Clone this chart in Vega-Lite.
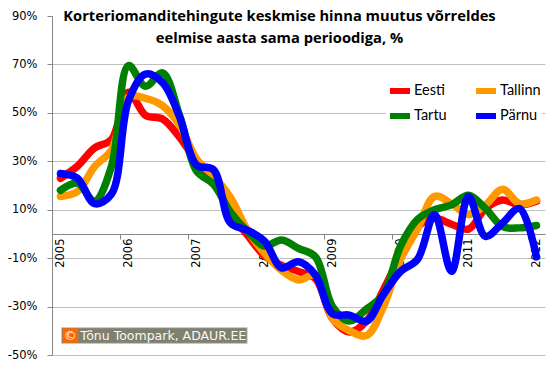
{
  "$schema": "https://vega.github.io/schema/vega-lite/v6.json",
  "width": 493,
  "height": 339,
  "autosize": {"type": "none"},
  "padding": {"left": 52, "top": 16, "right": 15, "bottom": 11},
  "background": "white",
  "title": {
    "text": ["Korteriomanditehingute keskmise hinna muutus võrreldes", "eelmise aasta sama perioodiga, %"],
    "font": "Open Sans",
    "fontSize": 14.7,
    "fontWeight": "bold",
    "color": "black",
    "anchor": "middle",
    "frame": "group",
    "dx": -19,
    "lineHeight": 22,
    "baseline": "top",
    "offset": -36
  },
  "config": {
    "view": {"stroke": null},
    "legend": {
      "orient": "none",
      "legendX": 334,
      "legendY": 61,
      "columns": 2,
      "direction": "horizontal",
      "symbolType": "stroke",
      "symbolSize": 400,
      "symbolStrokeWidth": 6,
      "labelFont": "Lato",
      "labelFontSize": 14.5,
      "labelColor": "black",
      "labelOffset": 1,
      "columnPadding": 17,
      "rowPadding": -2,
      "fillColor": "white",
      "padding": 1,
      "title": null
    }
  },
  "layer": [
    {
      "data": {
        "values": [
          {"q": 2005.00, "Eesti": 23, "Tallinn": 15.5, "Tartu": 18, "Pärnu": 25},
          {"q": 2005.25, "Eesti": 28, "Tallinn": 17.5, "Tartu": 21, "Pärnu": 23},
          {"q": 2005.50, "Eesti": 35.5, "Tallinn": 27.8, "Tartu": 13.5, "Pärnu": 12.5},
          {"q": 2005.75, "Eesti": 39, "Tallinn": 34.7, "Tartu": 28, "Pärnu": 16.5},
          {"q": 2006.00, "Eesti": 58.5, "Tallinn": 56.5, "Tartu": 69.5, "Pärnu": 55},
          {"q": 2006.25, "Eesti": 49, "Tallinn": 56, "Tartu": 61, "Pärnu": 66},
          {"q": 2006.50, "Eesti": 47.5, "Tallinn": 53, "Tartu": 66.5, "Pärnu": 62.5},
          {"q": 2006.75, "Eesti": 40, "Tallinn": 45, "Tartu": 49, "Pärnu": 48.5},
          {"q": 2007.00, "Eesti": 30, "Tallinn": 31, "Tartu": 26, "Pärnu": 28.5},
          {"q": 2007.25, "Eesti": 22, "Tallinn": 24, "Tartu": 20.5, "Pärnu": 26.5},
          {"q": 2007.50, "Eesti": 8.5, "Tallinn": 15, "Tartu": 9, "Pärnu": 4.5},
          {"q": 2007.75, "Eesti": -0.5, "Tallinn": 1.5, "Tartu": 1, "Pärnu": 1.5},
          {"q": 2008.00, "Eesti": -9, "Tallinn": -8, "Tartu": -5, "Pärnu": -3},
          {"q": 2008.25, "Eesti": -13, "Tallinn": -15, "Tartu": -2.5, "Pärnu": -14},
          {"q": 2008.50, "Eesti": -15.5, "Tallinn": -19, "Tartu": -6, "Pärnu": -11.5},
          {"q": 2008.75, "Eesti": -18.5, "Tallinn": -17, "Tartu": -9.5, "Pärnu": -17},
          {"q": 2009.00, "Eesti": -35, "Tallinn": -35, "Tartu": -30, "Pärnu": -33},
          {"q": 2009.25, "Eesti": -40.5, "Tallinn": -40, "Tartu": -36, "Pärnu": -33.5},
          {"q": 2009.50, "Eesti": -36, "Tallinn": -42, "Tartu": -31, "Pärnu": -36},
          {"q": 2009.75, "Eesti": -23, "Tallinn": -30, "Tartu": -25, "Pärnu": -25},
          {"q": 2010.00, "Eesti": -9, "Tallinn": -10.5, "Tartu": -5, "Pärnu": -15.5},
          {"q": 2010.25, "Eesti": 3, "Tallinn": 2, "Tartu": 6, "Pärnu": -10.5},
          {"q": 2010.50, "Eesti": 6.5, "Tallinn": 15.5, "Tartu": 10, "Pärnu": 8},
          {"q": 2010.75, "Eesti": 4, "Tallinn": 12.5, "Tartu": 12, "Pärnu": -15.5},
          {"q": 2011.00, "Eesti": 2, "Tallinn": 8, "Tartu": 16, "Pärnu": 15.5},
          {"q": 2011.25, "Eesti": 10.5, "Tallinn": 12, "Tartu": 10.5, "Pärnu": -1},
          {"q": 2011.50, "Eesti": 14, "Tallinn": 18.5, "Tartu": 3, "Pärnu": 4.5},
          {"q": 2011.75, "Eesti": 12, "Tallinn": 12.5, "Tartu": 2.5, "Pärnu": 10.5},
          {"q": 2012.00, "Eesti": 13.5, "Tallinn": 14, "Tartu": 3.5, "Pärnu": -9.5}
        ]
      },
      "transform": [{"fold": ["Eesti", "Tallinn", "Tartu", "Pärnu"], "as": ["series", "value"]}],
      "mark": {"type": "line", "interpolate": "catmull-rom", "strokeWidth": 7.5, "strokeCap": "round", "strokeJoin": "round"},
      "encoding": {
        "x": {
          "field": "q",
          "type": "quantitative",
          "scale": {"domain": [2004.875, 2012.125], "nice": false, "zero": false},
          "axis": {
            "values": [2004.875, 2005.125, 2005.375, 2005.625, 2005.875, 2006.125, 2006.375, 2006.625, 2006.875, 2007.125, 2007.375, 2007.625, 2007.875, 2008.125, 2008.375, 2008.625, 2008.875, 2009.125, 2009.375, 2009.625, 2009.875, 2010.125, 2010.375, 2010.625, 2010.875, 2011.125, 2011.375, 2011.625, 2011.875, 2012.125],
            "labelExpr": "(datum.value - 2004.875) % 1 == 0 ? '' + (datum.value + 0.125) : ''",
            "labelAngle": 270,
            "labelOffset": 8.5,
            "labelPadding": -1,
            "tickSize": 5,
            "tickColor": "#868686",
            "domainColor": "#868686",
            "grid": false,
            "title": null,
            "offset": -121,
            "labelFont": "DejaVu Sans",
            "labelFontSize": 11.5,
            "labelColor": "black",
            "labelOverlap": false,
            "labelFlush": false,
            "labelBound": false
          }
        },
        "y": {
          "field": "value",
          "type": "quantitative",
          "scale": {"domain": [-50, 90], "nice": false},
          "axis": {
            "values": [-50, -30, -10, 10, 30, 50, 70, 90],
            "labelExpr": "datum.value + '%'",
            "title": null,
            "tickSize": 5,
            "tickColor": "#868686",
            "domainColor": "#868686",
            "gridColor": {"condition": {"test": "datum.value == 90", "value": "transparent"}, "value": "#bfbfbf"},
            "labelFont": "DejaVu Sans",
            "labelFontSize": 11.5,
            "labelColor": "black",
            "labelPadding": 10
          }
        },
        "color": {
          "field": "series",
          "type": "nominal",
          "scale": {"domain": ["Eesti", "Tallinn", "Tartu", "Pärnu"], "range": ["#ff0000", "#ff9900", "#008000", "#0000ff"]},
          "legend": {}
        }
      }
    },
    {
      "data": {"values": [{"label": "Tõnu Toompark, ADAUR.EE"}]},
      "mark": {"type": "rect", "fill": "#808070", "stroke": "#c8c8c8", "strokeWidth": 1},
      "encoding": {
        "x": {"datum": 2005.015, "type": "quantitative"},
        "x2": {"datum": 2007.745},
        "y": {"datum": -38.7, "type": "quantitative"},
        "y2": {"datum": -45.2}
      }
    },
    {
      "data": {"values": [{"label": "©"}]},
      "mark": {"type": "rect", "fill": "#ff6600"},
      "encoding": {
        "x": {"datum": 2005.03, "type": "quantitative"},
        "x2": {"datum": 2005.26},
        "y": {"datum": -39.0, "type": "quantitative"},
        "y2": {"datum": -44.9}
      }
    },
    {
      "data": {"values": [{"label": "©"}]},
      "mark": {"type": "text", "font": "DejaVu Sans", "fontSize": 13, "color": "white", "align": "center", "baseline": "middle"},
      "encoding": {
        "x": {"datum": 2005.145, "type": "quantitative"},
        "y": {"datum": -42, "type": "quantitative"},
        "text": {"field": "label"}
      }
    },
    {
      "data": {"values": [{"label": "Tõnu Toompark, ADAUR.EE"}]},
      "mark": {"type": "text", "font": "DejaVu Sans", "fontSize": 12.5, "color": "#f8f8f4", "align": "left", "baseline": "middle"},
      "encoding": {
        "x": {"datum": 2005.29, "type": "quantitative"},
        "y": {"datum": -42, "type": "quantitative"},
        "text": {"field": "label"}
      }
    }
  ]
}
